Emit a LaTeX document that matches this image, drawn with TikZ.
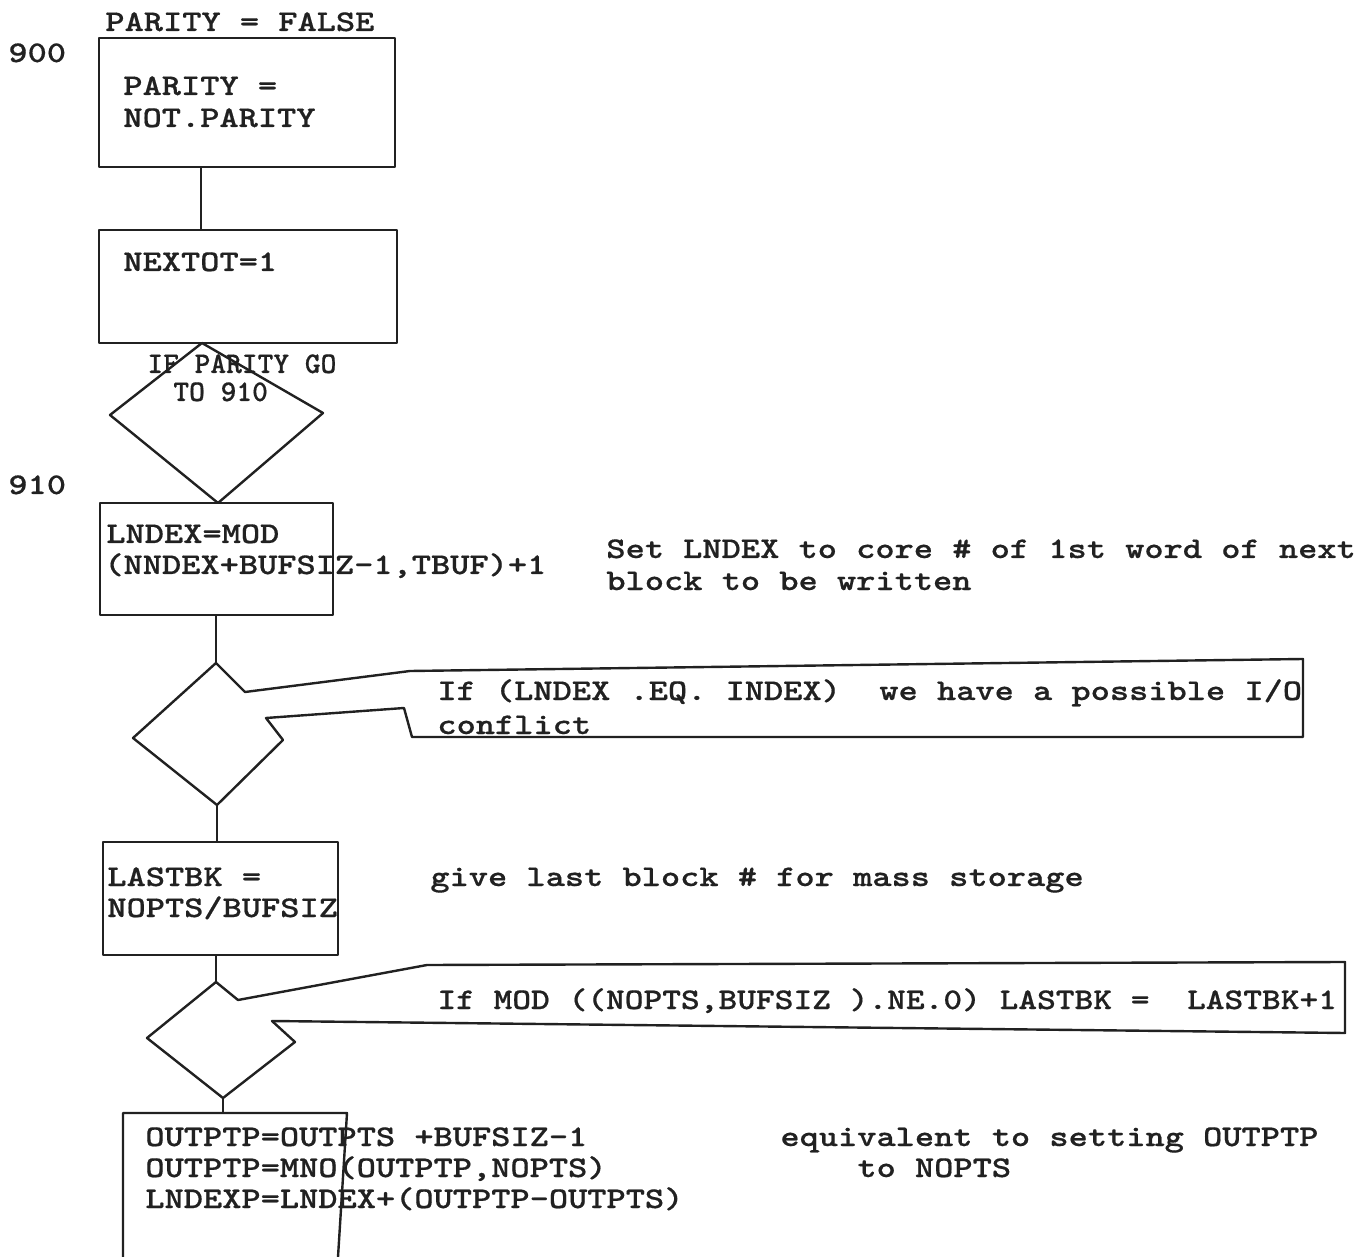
\documentclass[tikz,border=0pt]{standalone}
\usepackage{fontspec}
\newfontfamily\tw{lmmonolt10-bold.otf}[FakeStretch=1.22, FakeBold=0.5]
\newfontfamily\twq{lmmonolt10-bold.otf}[FakeStretch=1.19, FakeBold=0.5]
\newfontfamily\tws{lmmonolt10-bold.otf}[FakeBold=0.5]
\usetikzlibrary{fit}
\definecolor{ink}{gray}{0.13}
\begin{document}
\begin{tikzpicture}[x=0.5pt,y=-0.5pt,
  ln/.style={line width=1.2pt, draw=ink, line join=round},
  boxnode/.style={ln, inner sep=0pt},
  txt/.style={font=\tw\fontsize{15}{17}\selectfont, text=ink, inner sep=0pt, anchor=base west},
  txtq/.style={txt, font=\twq\fontsize{15}{17}\selectfont},
  small/.style={txt, font=\tws\fontsize{15}{17}\selectfont}]
\useasboundingbox (0,0) rectangle (1362,1257);

% boxes
\node[boxnode, fit={(99,38) (395,167)}] (b1) {};
\node[boxnode, fit={(99,230) (397,343)}] (b2) {};
\node[boxnode, fit={(100,503) (333,615)}] (b3) {};
\node[boxnode, fit={(103,842) (338,955)}] (b4) {};

% helper coordinates
\coordinate (x1) at (201,0);
\coordinate (d1t) at (202,343);
\coordinate (d1r) at (323,413);
\coordinate (d1b) at (218,503);
\coordinate (d1l) at (110,415);

\coordinate (d2t) at (216,663);
\coordinate (d2r) at (283,740);
\coordinate (d2b) at (217,805);
\coordinate (d2l) at (133,738);
\coordinate (c1a) at (245,692);
\coordinate (c1b) at (410,671);
\coordinate (c1c) at (1303,659);
\coordinate (c1d) at (1303,737);
\coordinate (c1e) at (412,737);
\coordinate (c1f) at (404,708);
\coordinate (c1g) at (266,718);

\coordinate (d3t) at (216,982);
\coordinate (d3r) at (295,1042);
\coordinate (d3b) at (223,1098);
\coordinate (d3l) at (147,1038);
\coordinate (c2a) at (238,1000);
\coordinate (c2b) at (427,965);
\coordinate (c2c) at (1345,962);
\coordinate (c2d) at (1345,1033);
\coordinate (c2e) at (272,1021);

\coordinate (b5tl) at (123,1113);
\coordinate (b5tr) at (347,1113);
\coordinate (b5bl) at (123,1257);
\coordinate (b5br) at (338,1257);

% connectors
\draw[ln] (b1.south -| x1) -- (b2.north -| x1);
\draw[ln] (d1t) -- (d1r) -- (d1b) -- (d1l) -- cycle;
\draw[ln] (b3.south -| d2t) -- (d2t);
\draw[ln] (d2t) -- (c1a) -- (c1b) -- (c1c) -- (c1d) -- (c1e) -- (c1f) -- (c1g) -- (d2r) -- (d2b) -- (d2l) -- cycle;
\draw[ln] (d2b) -- (b4.north -| d2b);
\draw[ln] (b4.south -| d3t) -- (d3t);
\draw[ln] (d3t) -- (c2a) -- (c2b) -- (c2c) -- (c2d) -- (c2e) -- (d3r) -- (d3b) -- (d3l) -- cycle;
\draw[ln] (d3b) -- (d3b |- b5tl);
\draw[ln] (b5bl) -- (b5tl) -- (b5tr) -- (b5br);

% texts
\node[txt] (t0) at (105,31) {PARITY = FALSE};
\node[txt] (l900) at (8,62) {900};
\node[txt] (t1a) at (123,95) {PARITY =};
\node[txt] (t1b) at (123,127) {NOT.PARITY};
\node[txt] (t2) at (123,271) {NEXTOT=1};
\node[small] (q1a) at (147,373) {IF PARITY GO};
\node[small] (q1b) at (173,401) {TO 910};
\node[txt] (l910) at (8,494) {910};
\node[txt] (t3a) at (106,543) {LNDEX=MOD};
\node[txt] (t3b) at (104,574) {(NNDEX+BUFSIZ-1,TBUF)+1};
\node[txt] (n3a) at (606,558) {Set LNDEX to core \# of 1st word of next};
\node[txt] (n3b) at (606,590) {block to be written};
\node[txt] (q2a) at (437,700) {If (LNDEX .EQ. INDEX)~~we have a possible I/O};
\node[txt] (q2b) at (437,734) {conflict};
\node[txt] (t4a) at (107,886) {LASTBK =};
\node[txt] (t4b) at (107,917) {NOPTS/BUFSIZ};
\node[txt] (n4) at (430,886) {give last block \# for mass storage};
\node[txtq] (q3) at (437,1009) {If MOD ((NOPTS,BUFSIZ ).NE.0) LASTBK =~~LASTBK+1};
\node[txt] (t5a) at (145,1146) {OUTPTP=OUTPTS +BUFSIZ-1};
\node[txt] (t5b) at (145,1177) {OUTPTP=MNO(OUTPTP,NOPTS)};
\node[txt] (t5c) at (145,1208) {LNDEXP=LNDEX+(OUTPTP-OUTPTS)};
\node[txt] (n5a) at (780,1146) {equivalent to setting OUTPTP};
\node[txt] (n5b) at (857,1177) {to NOPTS};
\end{tikzpicture}
\end{document}
